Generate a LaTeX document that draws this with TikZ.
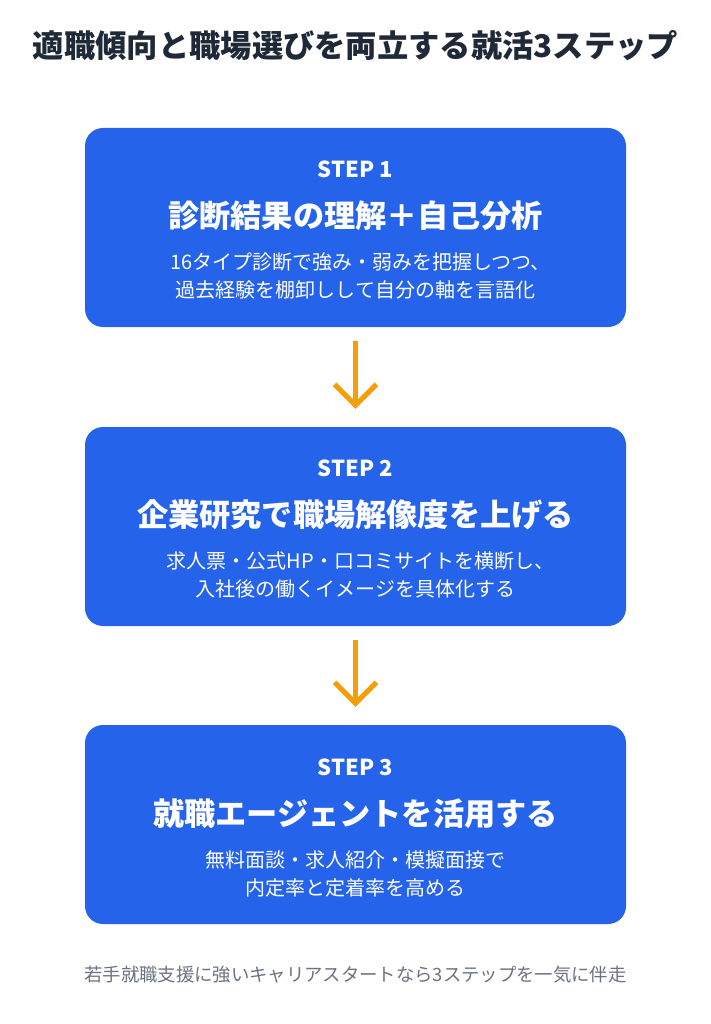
\documentclass[tikz,border=0pt]{standalone}
\usepackage{fontspec}
\usepackage{xcolor}
\usetikzlibrary{arrows.meta}
\setmainfont{Noto Sans CJK JP}
\definecolor{StepBlue}{HTML}{2563EB}
\definecolor{ArrowAmber}{HTML}{F59E0B}
\definecolor{TitleInk}{HTML}{1F2937}
\definecolor{NoteGray}{HTML}{6B7280}

\begin{document}
\begin{tikzpicture}[
    x=1pt, y=-1pt,
    stepbox/.style={rectangle, fill=StepBlue, rounded corners=18pt, minimum width=541pt, minimum height=199pt, inner sep=0pt},
    steplabel/.style={text=white, font=\fontsize{22}{26}\selectfont\bfseries, inner sep=0pt},
    stephead/.style={text=white, font=\fontsize{31.2}{36}\selectfont\bfseries, inner sep=0pt},
    stepbody/.style={text=white, align=center, font=\fontsize{20}{28}\selectfont, inner sep=0pt},
    arrow/.style={-{Straight Barb[length=21pt, width=42pt, line width=5pt]}, line width=5pt, ArrowAmber, shorten <=14pt, shorten >=18pt}
]
    \useasboundingbox (0, 0) rectangle (711, 1024);
    \node[text=TitleInk, inner sep=0pt, font=\fontsize{31.3}{36}\selectfont\bfseries] (title) at (355.5, 46) {適職傾向と職場選びを両立する就活3ステップ};
    % Step 1
    \node[stepbox] (one) at (355.5, 227.5) {};
    \node[steplabel] (onelabel) at (355.5, 169) {STEP 1};
    \node[stephead] (onehead) at (355.5, 216) {診断結果の理解＋自己分析};
    \node[stepbody] (onebody) at (355.5, 275.5) {16タイプ診断で強み・弱みを把握しつつ、\kern-10pt\\過去経験を棚卸しして自分の軸を言語化};
    % Step 2
    \node[stepbox] (two) at (355.5, 526.5) {};
    \node[steplabel] (twolabel) at (355.5, 468) {STEP 2};
    \node[stephead] (twohead) at (355.5, 515) {企業研究で職場解像度を上げる};
    \node[stepbody] (twobody) at (355.5, 574.5) {求人票・公式HP・口コミサイトを横断し、\kern-10pt\\入社後の働くイメージを具体化する};
    % Step 3
    \node[stepbox] (three) at (355.5, 824.5) {};
    \node[steplabel] (threelabel) at (355.5, 767) {STEP 3};
    \node[stephead] (threehead) at (355.5, 814) {就職エージェントを活用する};
    \node[stepbody] (threebody) at (355.5, 873.5) {無料面談・求人紹介・模擬面接で\\内定率と定着率を高める};
    \draw[arrow] (one) -- (two);
    \draw[arrow] (two) -- (three);
    \node[text=NoteGray, inner sep=0pt, font=\fontsize{18.35}{22}\selectfont] (note) at (355.5, 975) {若手就職支援に強いキャリアスタートなら3ステップを一気に伴走};
\end{tikzpicture}
\end{document}
